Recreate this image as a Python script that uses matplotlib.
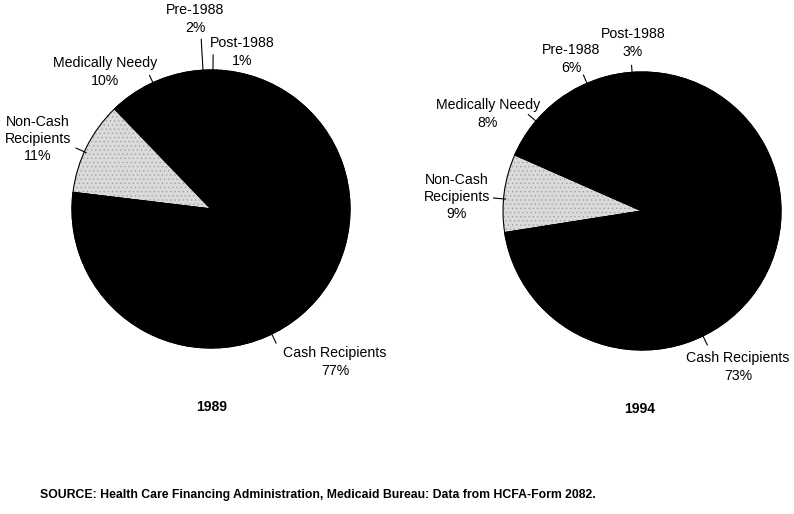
import numpy as np
import matplotlib
matplotlib.use("Agg")
from matplotlib import pyplot as plt

plt.rcParams["font.family"] = ["Liberation Sans", "DejaVu Sans"]
plt.rcParams["hatch.linewidth"] = 0.4

# data
categories = ["Post-1988", "Pre-1988", "Medically Needy", "Non-Cash\nRecipients", "Cash Recipients"]
shares_1989 = [1, 2, 10, 11, 77]
shares_1994 = [3, 6, 8, 9, 73]
years = ["1989", "1994"]
source = "SOURCE: Health Care Financing Administration, Medicaid Bureau: Data from HCFA-Form 2082."

# layout (pixel coords, y measured from top)
W, H = 794, 514
centers = [(211, 209), (642, 211)]
radius = 139
start_angles = [87.6, 94.4]
# leader angle (deg), leader length (px), text centre (x, y)
label_layout = [
    [(89.2, 15, (242, 52)), (93.3, 31, (195, 19)), (114.7, 8, (105, 72)),
     (155.7, 9, (38, 139)), (-64.1, 10, (335, 362))],
    [(94.1, 7, (633, 43)), (113.3, 9, (571, 59)), (139.7, 10, (488, 114)),
     (175.0, 10, (457, 197)), (-64.0, 10, (738, 367))],
]
year_pos = [(212, 407), (640, 409)]
colors = ["black", "black", "black", "#dadada", "black"]

fig = plt.figure(figsize=(W / 100, H / 100), dpi=100)
ax = fig.add_axes([0, 0, 1, 1])

for i, shares in enumerate([shares_1989, shares_1994]):
    cx, cy = centers[i]
    wedges, _ = ax.pie(shares, colors=colors, startangle=start_angles[i],
                       counterclock=True, center=(cx, H - cy), radius=radius,
                       wedgeprops=dict(edgecolor="black", linewidth=0.8))
    # stippled look for the grey slice
    grey = wedges[3]
    grey.set_hatch("....")
    grey.set_edgecolor("#9a9a9a")
    grey.set_linewidth(0)
    ax.pie(shares, colors=["white"] * len(shares), startangle=start_angles[i],
           counterclock=True, center=(cx, H - cy), radius=radius,
           wedgeprops=dict(edgecolor="black", linewidth=0.8, fill=False))
    for j, (ang, ln, (tx, ty)) in enumerate(label_layout[i]):
        a = np.deg2rad(ang)
        r0, r1 = radius - 2, radius + ln
        ax.plot([cx + r0 * np.cos(a), cx + r1 * np.cos(a)],
                [H - cy + r0 * np.sin(a), H - cy + r1 * np.sin(a)],
                color="black", lw=0.8)
        ax.text(tx, H - ty, f"{categories[j]}\n{shares[j]}%", ha="center", va="center",
                fontsize=10.2, linespacing=1.3)
    ax.text(year_pos[i][0], H - year_pos[i][1], years[i], ha="center", va="center",
            fontsize=10, fontweight="bold")

ax.text(40, H - 495, source, ha="left", va="center", fontsize=8.8, fontweight="bold")

ax.set_xlim(0, W)
ax.set_ylim(0, H)
ax.set_aspect("equal")
ax.axis("off")

fig.savefig("out.png", dpi=100)
